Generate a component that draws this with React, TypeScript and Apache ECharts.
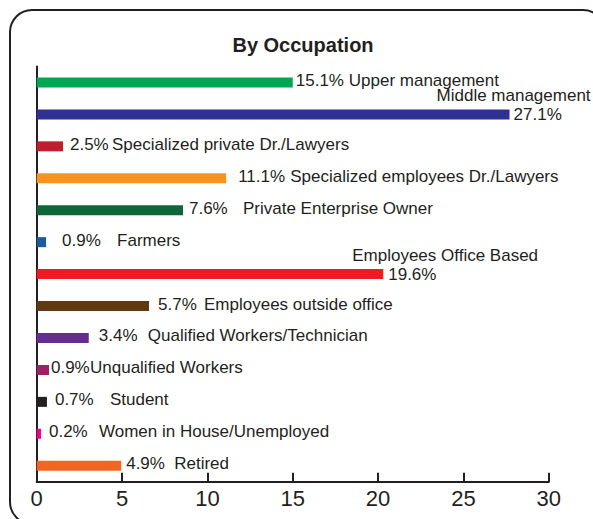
import React, { useEffect, useRef } from "react";
import * as echarts from "echarts";

const categories = [
  "Upper management",
  "Middle management",
  "Specialized private Dr./Lawyers",
  "Specialized employees Dr./Lawyers",
  "Private Enterprise Owner",
  "Farmers",
  "Employees Office Based",
  "Employees outside office",
  "Qualified Workers/Technician",
  "Unqualified Workers",
  "Student",
  "Women in House/Unemployed",
  "Retired",
];
// bar lengths as drawn in the picture
const barValues = [15.0, 27.7, 1.54, 11.1, 8.57, 0.55, 20.3, 6.58, 3.05, 0.72, 0.6, 0.25, 4.95];
// printed percentages
const valueLabels = ["15.1%", "27.1%", "2.5%", "11.1%", "7.6%", "0.9%", "19.6%", "5.7%", "3.4%", "0.9%", "0.7%", "0.2%", "4.9%"];
const barColors = [
  "#00a651", "#2e3192", "#be1e2d", "#f7941d", "#0f6637", "#1b5a9c", "#ed1c24",
  "#603913", "#662d91", "#9e1f63", "#231f20", "#ec008c", "#f26522",
];
const xTicks = [0, 5, 10, 15, 20, 25, 30];

// label layout (style only): gap after bar end, width of value part
const labelGap = [3, 0, 7, 12, 6, 16, 0, 9, 10, 2, 8, 8, 5];
const valueWidth = [53, 0, 42, 52, 54, 55, 0, 46, 49, 39, 55, 50, 48];
// two-line labels: [block left relative to bar end, value indent, dy, lineHeight]
const twoLine: Record<number, [number, number, number, number]> = {
  1: [-73, 77, -9.5, 18.5],
  6: [-31, 36, -9, 19.5],
};

const TEXT = "#231f20";
const FONT = "'Liberation Sans', Arial, Helvetica, sans-serif";
const FS = 17;

export default function App() {
  const ref = useRef<HTMLDivElement>(null);
  useEffect(() => {
    if (!ref.current) return;
    const chart = echarts.init(ref.current, undefined, { renderer: "svg" });
    const data = barValues.map((v, i) => {
      const tl = twoLine[i];
      let label: any;
      if (tl) {
        label = {
          show: true,
          position: "right",
          distance: 0,
          offset: [tl[0], tl[2]],
          formatter: `{n|${categories[i]}}\n{v|${valueLabels[i]}}`,
          rich: {
            n: { fontSize: FS, color: TEXT, fontFamily: FONT, lineHeight: tl[3], align: "left" },
            v: { fontSize: FS, color: TEXT, fontFamily: FONT, lineHeight: tl[3], align: "left", padding: [0, 0, 0, tl[1]] },
          },
        };
      } else {
        label = {
          show: true,
          position: "right",
          distance: labelGap[i],
          offset: [0, -2],
          formatter: `{v|${valueLabels[i]}}{n|${categories[i]}}`,
          rich: {
            v: { fontSize: FS, color: TEXT, fontFamily: FONT, width: valueWidth[i] },
            n: { fontSize: FS, color: TEXT, fontFamily: FONT },
          },
        };
      }
      return { value: v, itemStyle: { color: barColors[i] }, label };
    });

    chart.setOption({
      animation: false,
      grid: { left: 36.7, right: 44.2, top: 66.5, bottom: 37.3, containLabel: false },
      graphic: [
        {
          type: "rect",
          shape: { x: 10, y: 10, width: 595, height: 514, r: 22 },
          style: { fill: "none", stroke: TEXT, lineWidth: 2 },
          silent: true,
        },
        {
          type: "text",
          x: 303,
          y: 45,
          style: {
            text: "By Occupation",
            font: `bold 20px ${FONT}`,
            fill: TEXT,
            textAlign: "center",
            textVerticalAlign: "middle",
          },
        },
      ],
      xAxis: {
        type: "value",
        min: xTicks[0],
        max: xTicks[xTicks.length - 1],
        interval: xTicks[1] - xTicks[0],
        axisLine: { show: true, lineStyle: { color: TEXT, width: 2 } },
        axisTick: { show: true, inside: true, length: 9, lineStyle: { color: TEXT, width: 2 } },
        splitLine: { show: false },
        axisLabel: { color: TEXT, fontSize: 22, fontFamily: FONT, margin: 6 },
      },
      yAxis: {
        type: "category",
        data: categories,
        inverse: true,
        axisLine: { show: true, lineStyle: { color: TEXT, width: 2 } },
        axisTick: { show: false },
        axisLabel: { show: false },
        splitLine: { show: false },
      },
      series: [
        {
          type: "bar",
          data,
          barWidth: 10,
        },
      ],
    });
    return () => chart.dispose();
  }, []);
  return (
    <div
      ref={ref}
      style={{ position: "absolute", left: 0, top: 0, width: 593, height: 519, background: "#fff" }}
    />
  );
}
